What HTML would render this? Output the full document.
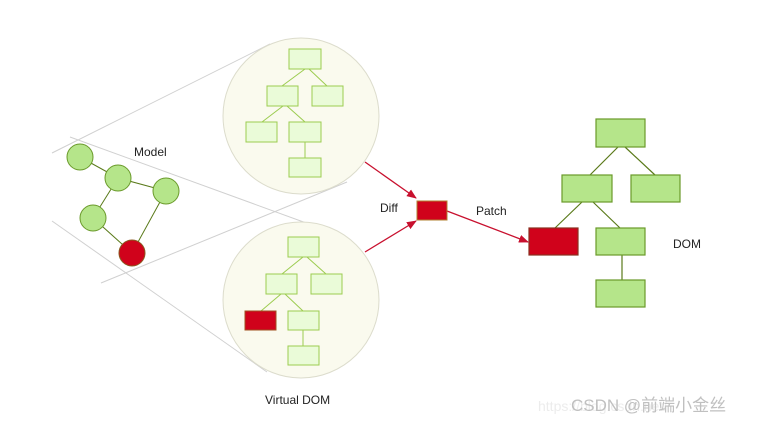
<!DOCTYPE html>
<html><head><meta charset="utf-8"><style>body{margin:0;background:#fff}svg{display:block}</style></head><body>
<svg width="757" height="424" viewBox="0 0 757 424" xmlns="http://www.w3.org/2000/svg" font-family="Liberation Sans, Arial, sans-serif">
<defs><marker id="a" markerWidth="10" markerHeight="8" refX="9" refY="4" orient="auto" markerUnits="userSpaceOnUse"><path d="M0,0 L10,4 L0,8 z" fill="#c8102e"/></marker></defs>
<g stroke="#d0d0d0" stroke-width="1">
<line x1="52" y1="153" x2="270" y2="44"/>
<line x1="70" y1="137" x2="320" y2="228"/>
<line x1="52" y1="221" x2="267" y2="372"/>
<line x1="101" y1="283" x2="347" y2="182"/>
</g>
<circle cx="301" cy="116" r="78" fill="#fafaee" stroke="#dcdccc"/>
<circle cx="301" cy="300" r="78" fill="#fafaee" stroke="#dcdccc"/>
<g stroke="#9ccc50" stroke-width="1" fill="none">
<path d="M305,69 L282,86 M309,69 L327,86 M283,106 L262,122 M287,106 L305,122 M305,142 V158"/>
<path d="M303,257 L282,274 M307,257 L326,274 M281,294 L261,311 M285,294 L303,311 M303,330 V346"/>
</g>
<g fill="#eafbd8" stroke="#9ccc50">
<rect x="289" y="49" width="32" height="20"/><rect x="267" y="86" width="31" height="20"/><rect x="312" y="86" width="31" height="20"/><rect x="246" y="122" width="31" height="20"/><rect x="289" y="122" width="32" height="20"/><rect x="289" y="158" width="32" height="19"/>
<rect x="288" y="237" width="31" height="20"/><rect x="266" y="274" width="31" height="20"/><rect x="311" y="274" width="31" height="20"/><rect x="288" y="311" width="31" height="19"/><rect x="288" y="346" width="31" height="19"/>
</g>
<rect x="245" y="311" width="31" height="19" fill="#d0021b" stroke="#a05020"/>
<g stroke="#5a7a1a" stroke-width="1" fill="none">
<path d="M80,157 L118,178 L166,191 M118,178 L93,218 L132,253 L166,191"/>
</g>
<g fill="#b5e58a" stroke="#6a9a2a">
<circle cx="80" cy="157" r="13"/><circle cx="118" cy="178" r="13"/><circle cx="166" cy="191" r="13"/><circle cx="93" cy="218" r="13"/>
</g>
<circle cx="132" cy="253" r="13" fill="#d0021b" stroke="#8a5a20"/>
<g stroke="#c8102e" stroke-width="1.3" fill="none">
<line x1="365" y1="162" x2="416" y2="198" marker-end="url(#a)"/>
<line x1="365" y1="252" x2="416" y2="221" marker-end="url(#a)"/>
<line x1="447" y1="211" x2="528" y2="242" marker-end="url(#a)"/>
</g>
<rect x="417" y="201" width="30" height="19" fill="#d0021b" stroke="#b08030"/>
<g stroke="#5a7a1a" stroke-width="1.2" fill="none">
<path d="M618,147 L590,175 M625,147 L655,175 M582,202 L555,228 M593,202 L620,228 M622,255 V280"/>
</g>
<g fill="#b5e58a" stroke="#6a9a2a" stroke-width="1.2">
<rect x="596" y="119" width="49" height="28"/><rect x="562" y="175" width="50" height="27"/><rect x="631" y="175" width="49" height="27"/><rect x="596" y="228" width="49" height="27"/><rect x="596" y="280" width="49" height="27"/>
</g>
<rect x="529" y="228" width="49" height="27" fill="#d0021b" stroke="#8a3020" stroke-width="1.2"/>
<g font-size="12" fill="#222">
<text x="134" y="156">Model</text>
<text x="380" y="212">Diff</text>
<text x="476" y="215">Patch</text>
<text x="673" y="248">DOM</text>
<text x="265" y="404">Virtual DOM</text>
</g>
<text x="538" y="411" font-size="14" fill="#ececec">https://blog.csdn.net/</text>
<text x="571" y="411" font-size="17" fill="#c0c0c0" font-family="Liberation Sans, Noto Sans CJK SC, sans-serif">CSDN @前端小金丝</text>
</svg>
</body></html>
